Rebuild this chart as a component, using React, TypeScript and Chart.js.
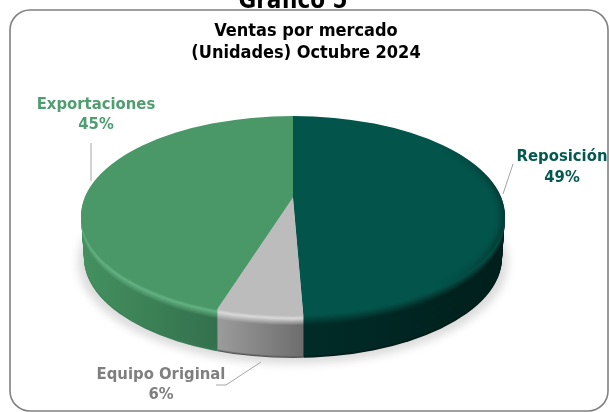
import React, { useEffect, useRef } from "react";
import { Chart, registerables } from "chart.js";

Chart.register(...registerables);

const categories = ["Reposición", "Equipo Original", "Exportaciones"];
const shares = [49.3, 5.9, 44.8];
const faceColors = ["#03544b", "#bcbcbc", "#4a9768"];
const labelColors = ["#03594f", "#7f7f7f", "#4f9d70"];
const sideLeft = ["#002c28", "#9c9c9c", "#44915f"];
const sideRight = ["#001f1c", "#6c6c6c", "#33704d"];
const bevelColors = ["#04473f", "#d8d8d8", "#63b082"];
const edgeColors = ["#001a17", "#555555", "#3a7d56"];
const outerTitle = "Gráfico 5";
const boxTitle = ["Ventas por mercado", "(Unidades) Octubre 2024"];

const FONT = '"DejaVu Sans Condensed", "DejaVu Sans", sans-serif';

const hex = (c: string) => [1, 3, 5].map((i) => parseInt(c.slice(i, i + 2), 16));
const mixRaw = (a: number[], b: number[], t: number) => a.map((v, i) => v + (b[i] - v) * t);
const css = (x: number[]) => `rgb(${x.map(Math.round).join(",")})`;

const geo = { cx: 293, cy: 216, rx: 212, ry: 100, ax: 293, ay: 197, k: 4, s: 0.5, depth: 42 };

const pie3d = {
  id: "pie3d",
  beforeDraw(chart: any) {
    const ctx = chart.ctx;
    ctx.save();
    ctx.fillStyle = "#ffffff";
    ctx.fillRect(0, 0, chart.width, chart.height);
    ctx.beginPath();
    ctx.roundRect(10, 10, 598, 401, 20);
    ctx.strokeStyle = "#808080";
    ctx.lineWidth = 1.6;
    ctx.stroke();
    ctx.restore();
  },
  beforeDatasetsDraw(chart: any) {
    const ctx = chart.ctx;
    const arcs = chart.getDatasetMeta(0).data;
    const { cx, cy, rx, ry, ax, ay, k, s, depth } = geo;

    ctx.save();
    ctx.filter = "blur(4px)";
    ctx.fillStyle = "#dcdcdc";
    ctx.beginPath();
    ctx.ellipse(cx, cy + depth + 4, rx + 3, ry + 2, 0, 0, Math.PI * 2);
    ctx.fill();
    ctx.restore();

    const paint = (dy: number, color: (i: number, toArcX: (x: number) => number) => any) => {
      const r = rx - (3 * dy) / depth;
      arcs.forEach((arc: any, i: number) => {
        const saved = arc.options;
        const toArcX = (x: number) => arc.x + (x - ax) / k;
        const o = Object.create(saved);
        o.backgroundColor = color(i, toArcX);
        o.borderWidth = 0;
        arc.options = o;
        ctx.save();
        ctx.beginPath();
        ctx.ellipse(cx, cy + dy, r, ry, 0, 0, Math.PI * 2);
        ctx.clip();
        ctx.translate(ax, ay + dy);
        ctx.scale(k, k * s);
        ctx.translate(-arc.x, -arc.y);
        arc.draw(ctx);
        ctx.restore();
        arc.options = saved;
      });
    };

    const spans = [[305, 505], [217, 305], [80, 217]];
    const shade = (base: number[], i: number, d: number) => {
      const face = hex(faceColors[i]);
      const bevel = hex(bevelColors[i]);
      if (d <= 3) return mixRaw(face, bevel, d / 3);
      if (d <= 10) return mixRaw(bevel, base, (d - 3) / 7);
      if (d >= depth - 2) return mixRaw(base, hex(edgeColors[i]), (d - depth + 2) / 2);
      return base;
    };
    for (let d = depth; d >= 1; d--) {
      paint(d, (i, toArcX) => {
        const g = ctx.createLinearGradient(toArcX(spans[i][0]), 0, toArcX(spans[i][1]), 0);
        g.addColorStop(0, css(shade(hex(sideLeft[i]), i, d)));
        g.addColorStop(1, css(shade(hex(sideRight[i]), i, d)));
        return g;
      });
    }
    paint(0, (i) => faceColors[i]);

    ctx.save();
    ctx.beginPath();
    ctx.ellipse(cx, cy, rx, ry, 0, 0, Math.PI * 2);
    ctx.clip();
    ctx.filter = "blur(3px)";
    const fade = ctx.createLinearGradient(440, 0, 505, 0);
    fade.addColorStop(0, "rgba(0,20,18,0)");
    fade.addColorStop(1, "rgba(0,20,18,0.6)");
    ctx.strokeStyle = fade;
    ctx.lineWidth = 5;
    ctx.beginPath();
    ctx.ellipse(cx, cy, rx, ry, 0, 0, Math.PI * 2);
    ctx.stroke();
    ctx.restore();
    return false;
  },
  afterDraw(chart: any) {
    const ctx = chart.ctx;
    ctx.save();
    ctx.textAlign = "center";
    ctx.textBaseline = "middle";
    ctx.fillStyle = "#000000";
    ctx.font = `bold 24px ${FONT}`;
    ctx.fillText(outerTitle, 293, 2);

    ctx.strokeStyle = "#a6a6a6";
    ctx.lineWidth = 1;
    const leaders = [
      [[513, 164], [503, 194]],
      [[261, 362], [226, 385], [216, 385]],
      [[91, 143], [91, 181]],
    ];
    leaders.forEach((pts) => {
      ctx.beginPath();
      pts.forEach((p, i) => (i ? ctx.lineTo(p[0], p[1]) : ctx.moveTo(p[0], p[1])));
      ctx.stroke();
    });

    const anchors = [[562, 157, 178], [161, 375, 395], [96, 105, 125]];
    ctx.font = `bold 16.5px ${FONT}`;
    categories.forEach((name, i) => {
      ctx.fillStyle = labelColors[i];
      ctx.fillText(name, anchors[i][0], anchors[i][1]);
      ctx.fillText(`${Math.round(shares[i])}%`, anchors[i][0], anchors[i][2]);
    });
    ctx.restore();
  },
};

export default function App() {
  const ref = useRef<HTMLCanvasElement>(null);
  useEffect(() => {
    const chart = new Chart(ref.current!, {
      type: "pie",
      data: {
        labels: categories,
        datasets: [{ data: shares, backgroundColor: faceColors, borderWidth: 0 }],
      },
      options: {
        animation: false,
        responsive: false,
        layout: { padding: { left: 3 } },
        plugins: {
          legend: { display: false },
          tooltip: { enabled: false },
          title: {
            display: true,
            text: boxTitle,
            color: "#000000",
            font: { family: FONT, size: 18, weight: "bold", lineHeight: 1.24 },
            padding: { top: 20, bottom: 10 },
          },
        },
      },
      plugins: [pie3d],
    } as any);
    return () => chart.destroy();
  }, []);
  return (
    <div style={{ position: "fixed", left: 0, top: 0 }}>
      <canvas ref={ref} width={609} height={412} style={{ display: "block" }} />
    </div>
  );
}
